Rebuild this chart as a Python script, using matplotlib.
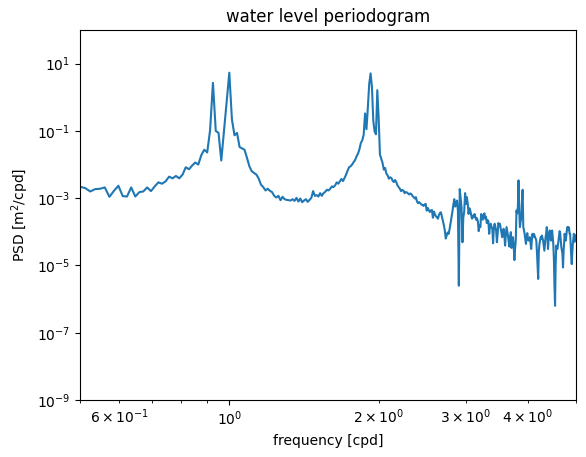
"""
Water level periodogram (log-log), diurnal and semidiurnal tidal bands.
"""

import matplotlib
matplotlib.use("Agg")
import matplotlib.pyplot as plt
import numpy as np

# record length in days -> frequency resolution 1/82 cpd
record_days = 82
first_bin = 41  # 41/82 = 0.5 cpd

# PSD values, as log10(m^2/cpd), one per frequency bin
log_psd = [
    -2.66, -2.70, -2.80, -2.73, -2.72, -2.68, -2.96, -2.78, -2.63, -2.94,  # 41-50
    -2.95, -2.68, -2.95, -2.82, -2.80, -2.68, -2.79, -2.65, -2.53, -2.57,  # 51-60
    -2.50, -2.36, -2.41, -2.34, -2.41, -2.30, -2.08, -2.14, -2.03, -1.94,  # 61-70
    -2.00, -1.72, -1.56, -1.64, -0.98, 0.43, -1.00, -1.06, -1.88, -1.00,   # 71-80
    -0.10, 0.73, -0.66, -1.13, -1.06, -1.48, -1.52, -1.56, -1.80, -2.05,   # 81-90
    -2.20, -2.25, -2.30, -2.42, -2.60, -2.67, -2.77, -2.72, -2.78, -2.82,  # 91-100
    -2.93, -2.98, -2.93, -3.06, -2.96, -3.03, -3.05, -3.06, -3.07, -3.03,  # 101-110
    -3.08, -2.99, -3.10, -3.01, -3.12, -3.07, -3.03, -3.11, -3.05, -2.99,  # 111-120
    -2.79, -2.93, -2.91, -2.95, -2.85, -2.93, -2.85, -2.81, -2.75, -2.77,  # 121-130
    -2.72, -2.65, -2.67, -2.62, -2.53, -2.57, -2.50, -2.43, -2.49, -2.40,  # 131-140
    -2.30, -2.18, -2.08, -2.05, -2.00, -1.93, -1.87, -1.76, -1.68, -1.55,  # 141-150
    -1.36, -1.28, -1.12, -0.48, -0.95, -0.30, 0.40, 0.71, 0.30, -0.70,     # 151-160
    -1.02, -1.10, 0.21, -0.60, -1.70, -1.82, -1.95, -2.15, -2.10, -2.27,   # 161-170
    -2.32, -2.42, -2.38, -2.40, -2.48, -2.52, -2.46, -2.52, -2.62, -2.67,  # 171-180
    -2.72, -2.79, -2.76, -2.77, -2.85, -2.82, -2.83, -2.86, -2.89, -2.86,  # 181-190
    -2.88, -2.94, -2.97, -3.01, -2.97, -3.10, -3.15, -3.12, -3.15, -3.19,  # 191-200
    -3.20, -3.23, -3.19, -3.17, -3.37, -3.29, -3.35, -3.41, -3.37, -3.35,  # 201-210
    -3.58, -3.40, -3.48, -3.54, -3.57, -3.61, -3.50, -3.44, -3.42, -3.55,  # 211-220
    -3.68, -3.80, -3.96, -4.20, -4.10, -4.02, -4.06, -3.92, -3.75, -3.60,  # 221-230
    -3.40, -3.20, -3.03, -3.25, -3.15, -3.07, -3.37, -5.60, -2.73, -3.00,  # 231-240
    -3.27, -4.31, -3.57, -3.40, -2.85, -3.17, -2.97, -3.15, -3.47, -3.30,  # 241-250
    -3.37, -3.50, -3.61, -3.52, -3.57, -3.47, -3.55, -3.64, -3.60, -3.69,  # 251-260
    -3.98, -3.80, -3.86, -3.47, -3.55, -3.64, -3.50, -3.45, -3.61, -3.55,  # 261-270
    -3.74, -3.65, -3.69, -4.06, -3.85, -3.76, -3.85, -3.91, -4.34, -3.90,  # 271-280
    -3.76, -3.85, -3.96, -4.31, -4.05, -3.74, -3.80, -3.76, -3.90, -4.01,  # 281-290
    -4.16, -4.05, -3.91, -4.10, -4.41, -4.10, -3.86, -3.98, -4.11, -4.30,  # 291-300
    -4.44, -4.15, -4.01, -4.48, -4.30, -4.16, -4.40, -4.84, -4.50, -4.26,  # 301-310
    -3.37, -3.45, -3.27, -2.47, -3.37, -3.86, -3.70, -3.58, -3.10, -2.75,  # 311-320
    -3.86, -3.95, -4.06, -4.20, -4.36, -4.15, -4.04, -4.20, -4.26, -4.20,  # 321-330
    -4.16, -4.35, -4.51, -4.25, -4.06, -4.15, -4.06, -4.10, -4.16, -4.20,  # 331-340
    -4.26, -4.60, -5.00, -5.40, -4.60, -4.36, -4.25, -4.16, -4.20, -4.11,  # 341-350
    -4.20, -4.26, -4.40, -4.56, -4.35, -4.16, -4.05, -3.86, -4.10, -4.51,  # 351-360
    -4.25, -4.05, -3.96, -4.10, -4.26, -4.10, -3.96, -4.15, -4.36, -4.80,  # 361-370
    -5.60, -6.20, -5.00, -4.41, -4.45, -4.51, -4.40, -4.26, -4.10, -3.98,  # 371-380
    -4.05, -4.25, -4.46, -4.55, -4.66, -5.06, -4.60, -4.30, -4.06, -4.20,  # 381-390
    -4.26, -4.10, -3.95, -3.86, -3.95, -3.86, -3.90, -4.06, -4.06, -4.40,  # 391-400
    -4.70, -4.96, -4.60, -4.36, -4.20, -4.06, -4.30, -4.20, -4.10, -4.20,  # 401-410
]

freq = np.arange(first_bin, first_bin + len(log_psd)) / record_days
psd = 10.0 ** np.array(log_psd)

fig = plt.figure(figsize=(5.86, 4.57), dpi=100)
ax = fig.add_axes([80 / 586, 57 / 457, 496 / 586, 370 / 457])

ax.loglog(freq, psd)

ax.set_xlim(0.5, 5)
ax.set_ylim(1e-9, 1e2)
ax.set_xlabel("frequency [cpd]")
ax.set_ylabel("PSD [m$^2$/cpd]")
ax.set_title("water level periodogram")

fig.savefig("out.png", dpi=100)
plt.close(fig)
